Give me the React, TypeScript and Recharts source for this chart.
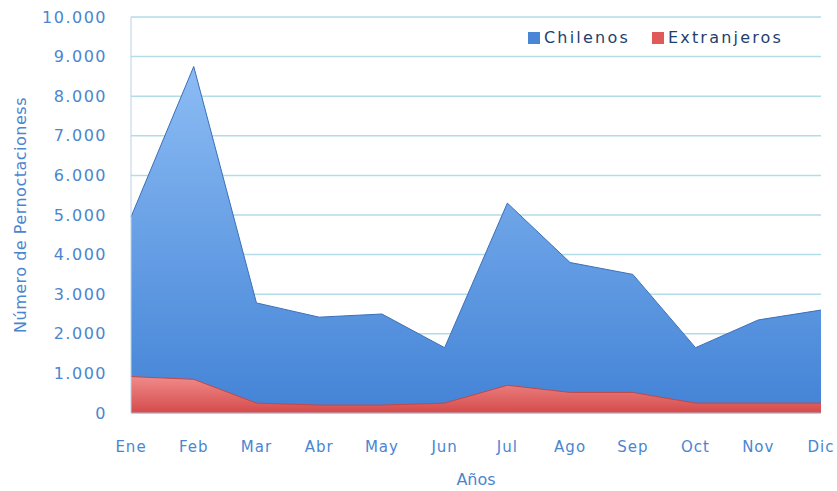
import {
  AreaChart,
  Area,
  XAxis,
  YAxis,
  CartesianGrid,
} from "recharts";

const months = ["Ene", "Feb", "Mar", "Abr", "May", "Jun", "Jul", "Ago", "Sep", "Oct", "Nov", "Dic"];
const chilenos = [4950, 8750, 2780, 2420, 2500, 1650, 5300, 3800, 3500, 1650, 2350, 2600];
const extranjeros = [920, 850, 250, 200, 200, 250, 700, 520, 520, 250, 250, 250];
const yTicks = [0, 1000, 2000, 3000, 4000, 5000, 6000, 7000, 8000, 9000, 10000];
const seriesNames = ["Chilenos", "Extranjeros"];
const seriesColors = ["#4a86d6", "#e05a5a"];

const data = months.map((m, i) => ({
  name: m,
  Chilenos: chilenos[i],
  Extranjeros: extranjeros[i],
}));

const font = "'DejaVu Sans', sans-serif";
const labelColor = "#4a86d0";

const fmt = (v: number) => v.toLocaleString("de-DE");

const App = () => {
  return (
    <div style={{ position: "absolute", left: 0, top: 0, width: 837, height: 491, fontFamily: font }}>
      <AreaChart
        width={837}
        height={491}
        data={data}
        margin={{ top: 17, right: 16, bottom: 0, left: 30 }}
      >
        <defs>
          <linearGradient id="gBlue" x1="0" y1="0" x2="0" y2="1">
            <stop offset="0%" stopColor="#8cbcf4" />
            <stop offset="100%" stopColor="#4383d6" />
          </linearGradient>
          <linearGradient id="gRed" x1="0" y1="0" x2="0" y2="1">
            <stop offset="0%" stopColor="#f08a8a" />
            <stop offset="100%" stopColor="#d54b4b" />
          </linearGradient>
        </defs>
        <CartesianGrid vertical={false} stroke="#b2dde8" strokeWidth={1.5} />
        <XAxis
          dataKey="name"
          height={78}
          tickLine={false}
          axisLine={{ stroke: "#a9bdd4" }}
          tick={{ fill: labelColor, fontSize: 15, fontFamily: font, style: { letterSpacing: 1 } }}
          tickMargin={22}
          interval={0}
          label={{ value: "Años", position: "insideBottom", offset: 6, fill: labelColor, fontSize: 16, fontFamily: font }}
        />
        <YAxis
          width={101}
          domain={[0, 10000]}
          ticks={yTicks}
          tickFormatter={fmt}
          tickLine={false}
          axisLine={{ stroke: "#b9d0e8" }}
          tick={{ fill: labelColor, fontSize: 16, fontFamily: font, style: { letterSpacing: 1.5 } }}
          tickMargin={18}
          label={{
            value: "Número de Pernoctacioness",
            angle: -90,
            position: "insideLeft",
            offset: -10,
            style: { textAnchor: "middle", fill: labelColor, fontSize: 16, fontFamily: font, letterSpacing: 0.5 },
          }}
        />
        <Area
          type="linear"
          dataKey="Chilenos"
          stroke="#3a70b8"
          strokeWidth={1}
          fill="url(#gBlue)"
          fillOpacity={1}
          isAnimationActive={false}
        />
        <Area
          type="linear"
          dataKey="Extranjeros"
          stroke="#c04848"
          strokeWidth={1}
          fill="url(#gRed)"
          fillOpacity={1}
          isAnimationActive={false}
        />
      </AreaChart>
      <div
        style={{
          position: "absolute",
          left: 528,
          top: 28,
          display: "flex",
          alignItems: "center",
          fontSize: 16,
          letterSpacing: 2.2,
          color: "#1f3f6e",
        }}
      >
        {seriesNames.map((n, i) => (
          <div key={n} style={{ display: "flex", alignItems: "center", marginRight: 22 }}>
            <span
              style={{
                display: "inline-block",
                width: 12,
                height: 12,
                background: seriesColors[i],
                marginRight: 4,
              }}
            />
            {n}
          </div>
        ))}
      </div>
    </div>
  );
};

export default App;
